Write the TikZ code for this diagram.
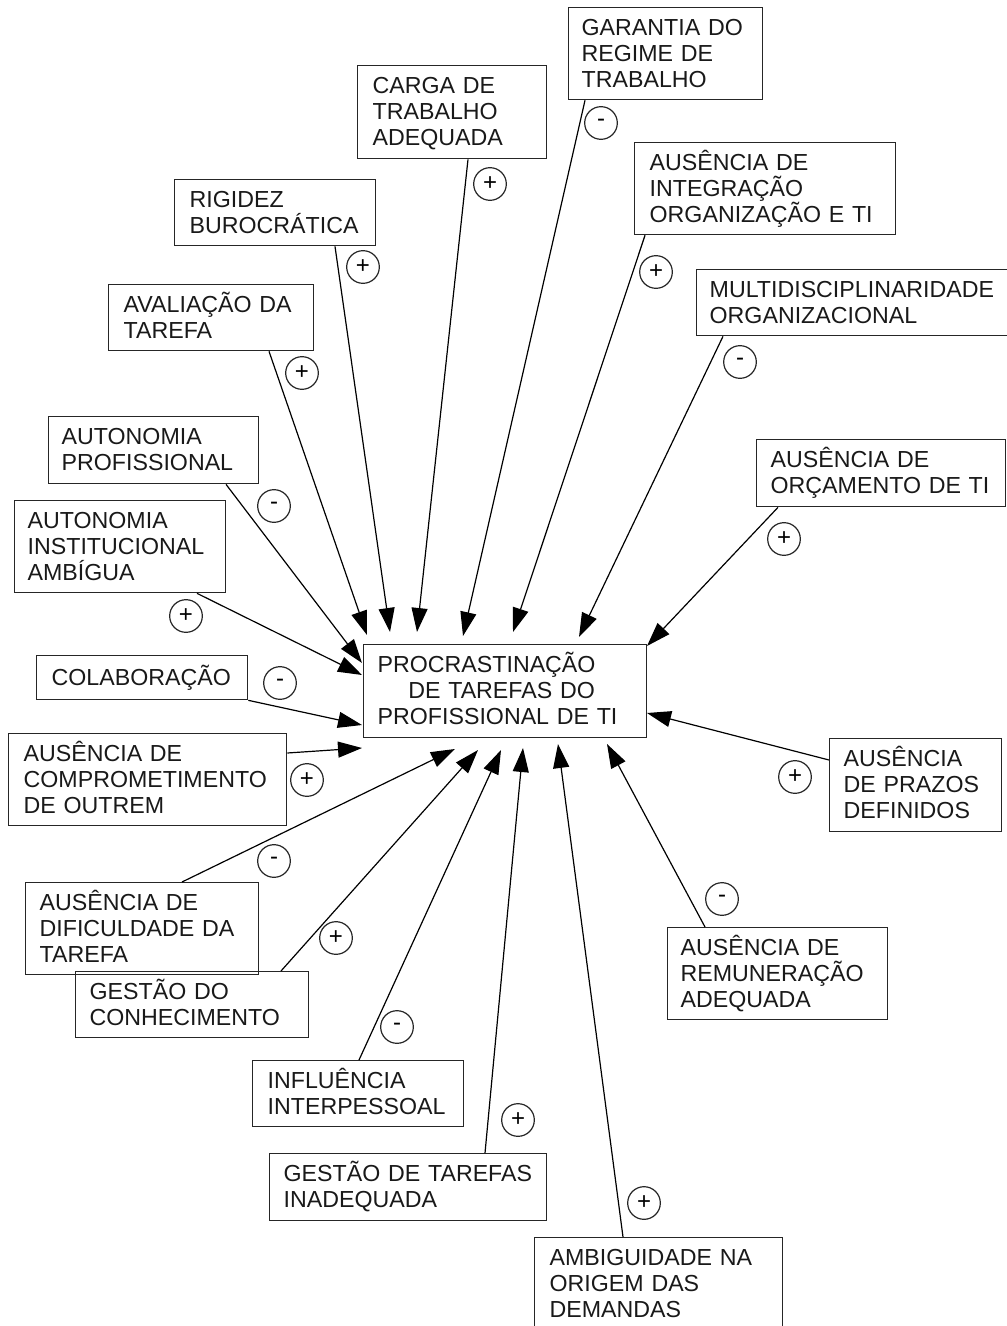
\documentclass[tikz,border=0pt]{standalone}
\usepackage{fontspec}
\setmainfont{Liberation Sans}
\usetikzlibrary{arrows.meta,calc}
\newcommand\boxfont{\fontsize{17.4pt}{19.5pt}\selectfont}
\tikzset{
  box/.style={draw=black!85, line width=1pt, anchor=north west, align=left,
    inner ysep=0pt, text height=16pt, text=black!90, font=\boxfont},
  one/.style={text depth=4.5pt},
  two/.style={text depth=24pt},
  three/.style={text depth=43.5pt},
  arr/.style={line width=0.9pt, -{Triangle[length=18pt,width=12pt]}},
  sign/.style={circle, draw=black!85, line width=0.9pt, minimum size=24.5pt,
    inner sep=0pt, font=\fontsize{18pt}{18pt}\selectfont}
}
\begin{document}
\begin{tikzpicture}[x=0.75pt,y=-0.75pt]
\useasboundingbox (0,0) rectangle (1006,1326);

% boxes
\node[box,three,minimum height=69.75pt,inner xsep=11.25pt,text width=119.25pt] (carga) at (357,65) {CARGA~DE\\TRABALHO\\ADEQUADA};
\node[box,three,minimum height=69pt,inner xsep=9.75pt,text width=126pt] (garantia) at (568,7) {GARANTIA~DO\\REGIME~DE\\TRABALHO};
\node[box,two,minimum height=49.5pt,inner xsep=11.25pt,text width=128.25pt] (rigidez) at (174,179) {RIGIDEZ\\BUROCRÁTICA};
\node[box,three,minimum height=69pt,inner xsep=11.25pt,text width=173.25pt] (integ) at (634,142) {AUSÊNCIA~DE\\INTEGRAÇÃO\\ORGANIZAÇÃO~E~TI};
\node[box,two,minimum height=49.5pt,inner xsep=11.25pt,text width=131.25pt] (aval) at (108,284) {AVALIAÇÃO~DA\\TAREFA};
\node[box,two,minimum height=49.5pt,inner xsep=9.75pt,text width=216.75pt] (multi) at (696,269) {MULTIDISCIPLINARIDADE\\ORGANIZACIONAL};
\node[box,two,minimum height=50.25pt,inner xsep=9.75pt,text width=138pt] (autprof) at (48,416) {AUTONOMIA\\PROFISSIONAL};
\node[box,three,minimum height=69pt,inner xsep=9.75pt,text width=138.75pt] (autinst) at (14,500) {AUTONOMIA\\INSTITUCIONAL\\AMBÍGUA};
\node[box,two,minimum height=50.25pt,inner xsep=10.5pt,text width=165.75pt] (orc) at (756,439) {AUSÊNCIA~DE\\ORÇAMENTO~DE~TI};
\node[box,one,minimum height=33pt,inner xsep=11.25pt,text width=135.75pt] (colab) at (36,655) {COLABORAÇÃO};
\node[box,three,minimum height=69pt,inner xsep=11.25pt,text width=186pt] (comp) at (8,733) {AUSÊNCIA~DE\\COMPROMETIMENTO\\DE~OUTREM};
\node[box,three,minimum height=69.75pt,inner xsep=10.5pt,text width=191.25pt] (main) at (363,644) {PROCRASTINAÇÃO\\\hspace*{23pt}DE~TAREFAS~DO\\PROFISSIONAL~DE~TI};
\node[box,three,minimum height=69.75pt,inner xsep=10.5pt,text width=108pt] (prazos) at (829,738) {AUSÊNCIA\\DE~PRAZOS\\DEFINIDOS};
\node[box,three,minimum height=69pt,inner xsep=10.5pt,text width=153.75pt] (dific) at (25,882) {AUSÊNCIA~DE\\DIFICULDADE~DA\\TAREFA};
\node[box,two,minimum height=49.5pt,inner xsep=10.5pt,text width=153.75pt] (gcon) at (75,971) {GESTÃO~DO\\CONHECIMENTO};
\node[box,two,minimum height=49.5pt,inner xsep=11.25pt,text width=135.75pt] (infl) at (252,1060) {INFLUÊNCIA\\INTERPESSOAL};
\node[box,two,minimum height=50.25pt,inner xsep=10.5pt,text width=186.75pt] (gtar) at (269,1153) {GESTÃO~DE~TAREFAS\\INADEQUADA};
\node[box,three,minimum height=69pt,inner xsep=9.75pt,text width=145.5pt] (remu) at (667,927) {AUSÊNCIA~DE\\REMUNERAÇÃO\\ADEQUADA};
\node[box,three,minimum height=69.75pt,inner xsep=11.25pt,text width=163.5pt] (ambig) at (534,1237) {AMBIGUIDADE~NA\\ORIGEM~DAS\\DEMANDAS};

% arrow tips
\coordinate (tCarga) at (417,632);
\coordinate (tRig) at (390,632);
\coordinate (tAval) at (367,635);
\coordinate (tGar) at (463,636);
\coordinate (tInt) at (513,632);
\coordinate (tMul) at (579,637);
\coordinate (tOrc) at (647,646);
\coordinate (tAP) at (362,663);
\coordinate (tAI) at (362,675);
\coordinate (tCol) at (362,725);
\coordinate (tCom) at (362,748);
\coordinate (tPra) at (647,713);
\coordinate (tDif) at (455,749);
\coordinate (tGcon) at (478,750);
\coordinate (tInf) at (501,750);
\coordinate (tGtar) at (523,748);
\coordinate (tAmb) at (558,744);
\coordinate (tRem) at (607,744);

% connectors
\draw[arr] ($(carga.south west)+(111,0)$) -- (tCarga);
\draw[arr] ($(rigidez.south west)+(161,0)$) -- (tRig);
\draw[arr] ($(aval.south west)+(161,0)$) -- (tAval);
\draw[arr] ($(garantia.south west)+(17,0)$) -- (tGar);
\draw[arr] ($(integ.south west)+(11,0)$) -- (tInt);
\draw[arr] ($(multi.south west)+(27,0)$) -- (tMul);
\draw[arr] ($(orc.south west)+(22,0)$) -- (tOrc);
\draw[arr] ($(autprof.south west)+(178,0)$) -- (tAP);
\draw[arr] ($(autinst.south west)+(183,0)$) -- (tAI);
\draw[arr] (colab.south east) -- (tCol);
\draw[arr] ($(comp.north east)+(0,20)$) -- (tCom);
\draw[arr] ($(prazos.north west)+(0,22)$) -- (tPra);
\draw[arr] ($(dific.north west)+(157,0)$) -- (tDif);
\draw[arr] ($(gcon.north west)+(206,0)$) -- (tGcon);
\draw[arr] ($(infl.north west)+(107,0)$) -- (tInf);
\draw[arr] ($(gtar.north west)+(216,0)$) -- (tGtar);
\draw[arr] ($(ambig.north west)+(89,0)$) -- (tAmb);
\draw[arr] ($(remu.north west)+(38,0)$) -- (tRem);

% polarity signs
\node[sign] (sCarga) at (490,184) {+};
\node[sign] (sRig) at (363,267) {+};
\node[sign] (sAval) at (302,373) {+};
\node[sign] (sGar) at (601,123) {-};
\node[sign] (sInt) at (656,272) {+};
\node[sign] (sMul) at (740,362) {-};
\node[sign] (sAP) at (274,506) {-};
\node[sign] (sAI) at (186,616) {+};
\node[sign] (sOrc) at (784,539) {+};
\node[sign] (sCol) at (280,683) {-};
\node[sign] (sCom) at (307,780) {+};
\node[sign] (sPra) at (795,777) {+};
\node[sign] (sDif) at (274,861) {-};
\node[sign] (sGcon) at (336,938) {+};
\node[sign] (sInf) at (397,1027) {-};
\node[sign] (sGtar) at (518,1120) {+};
\node[sign] (sRem) at (722,899) {-};
\node[sign] (sAmb) at (644,1203) {+};
\end{tikzpicture}
\end{document}
